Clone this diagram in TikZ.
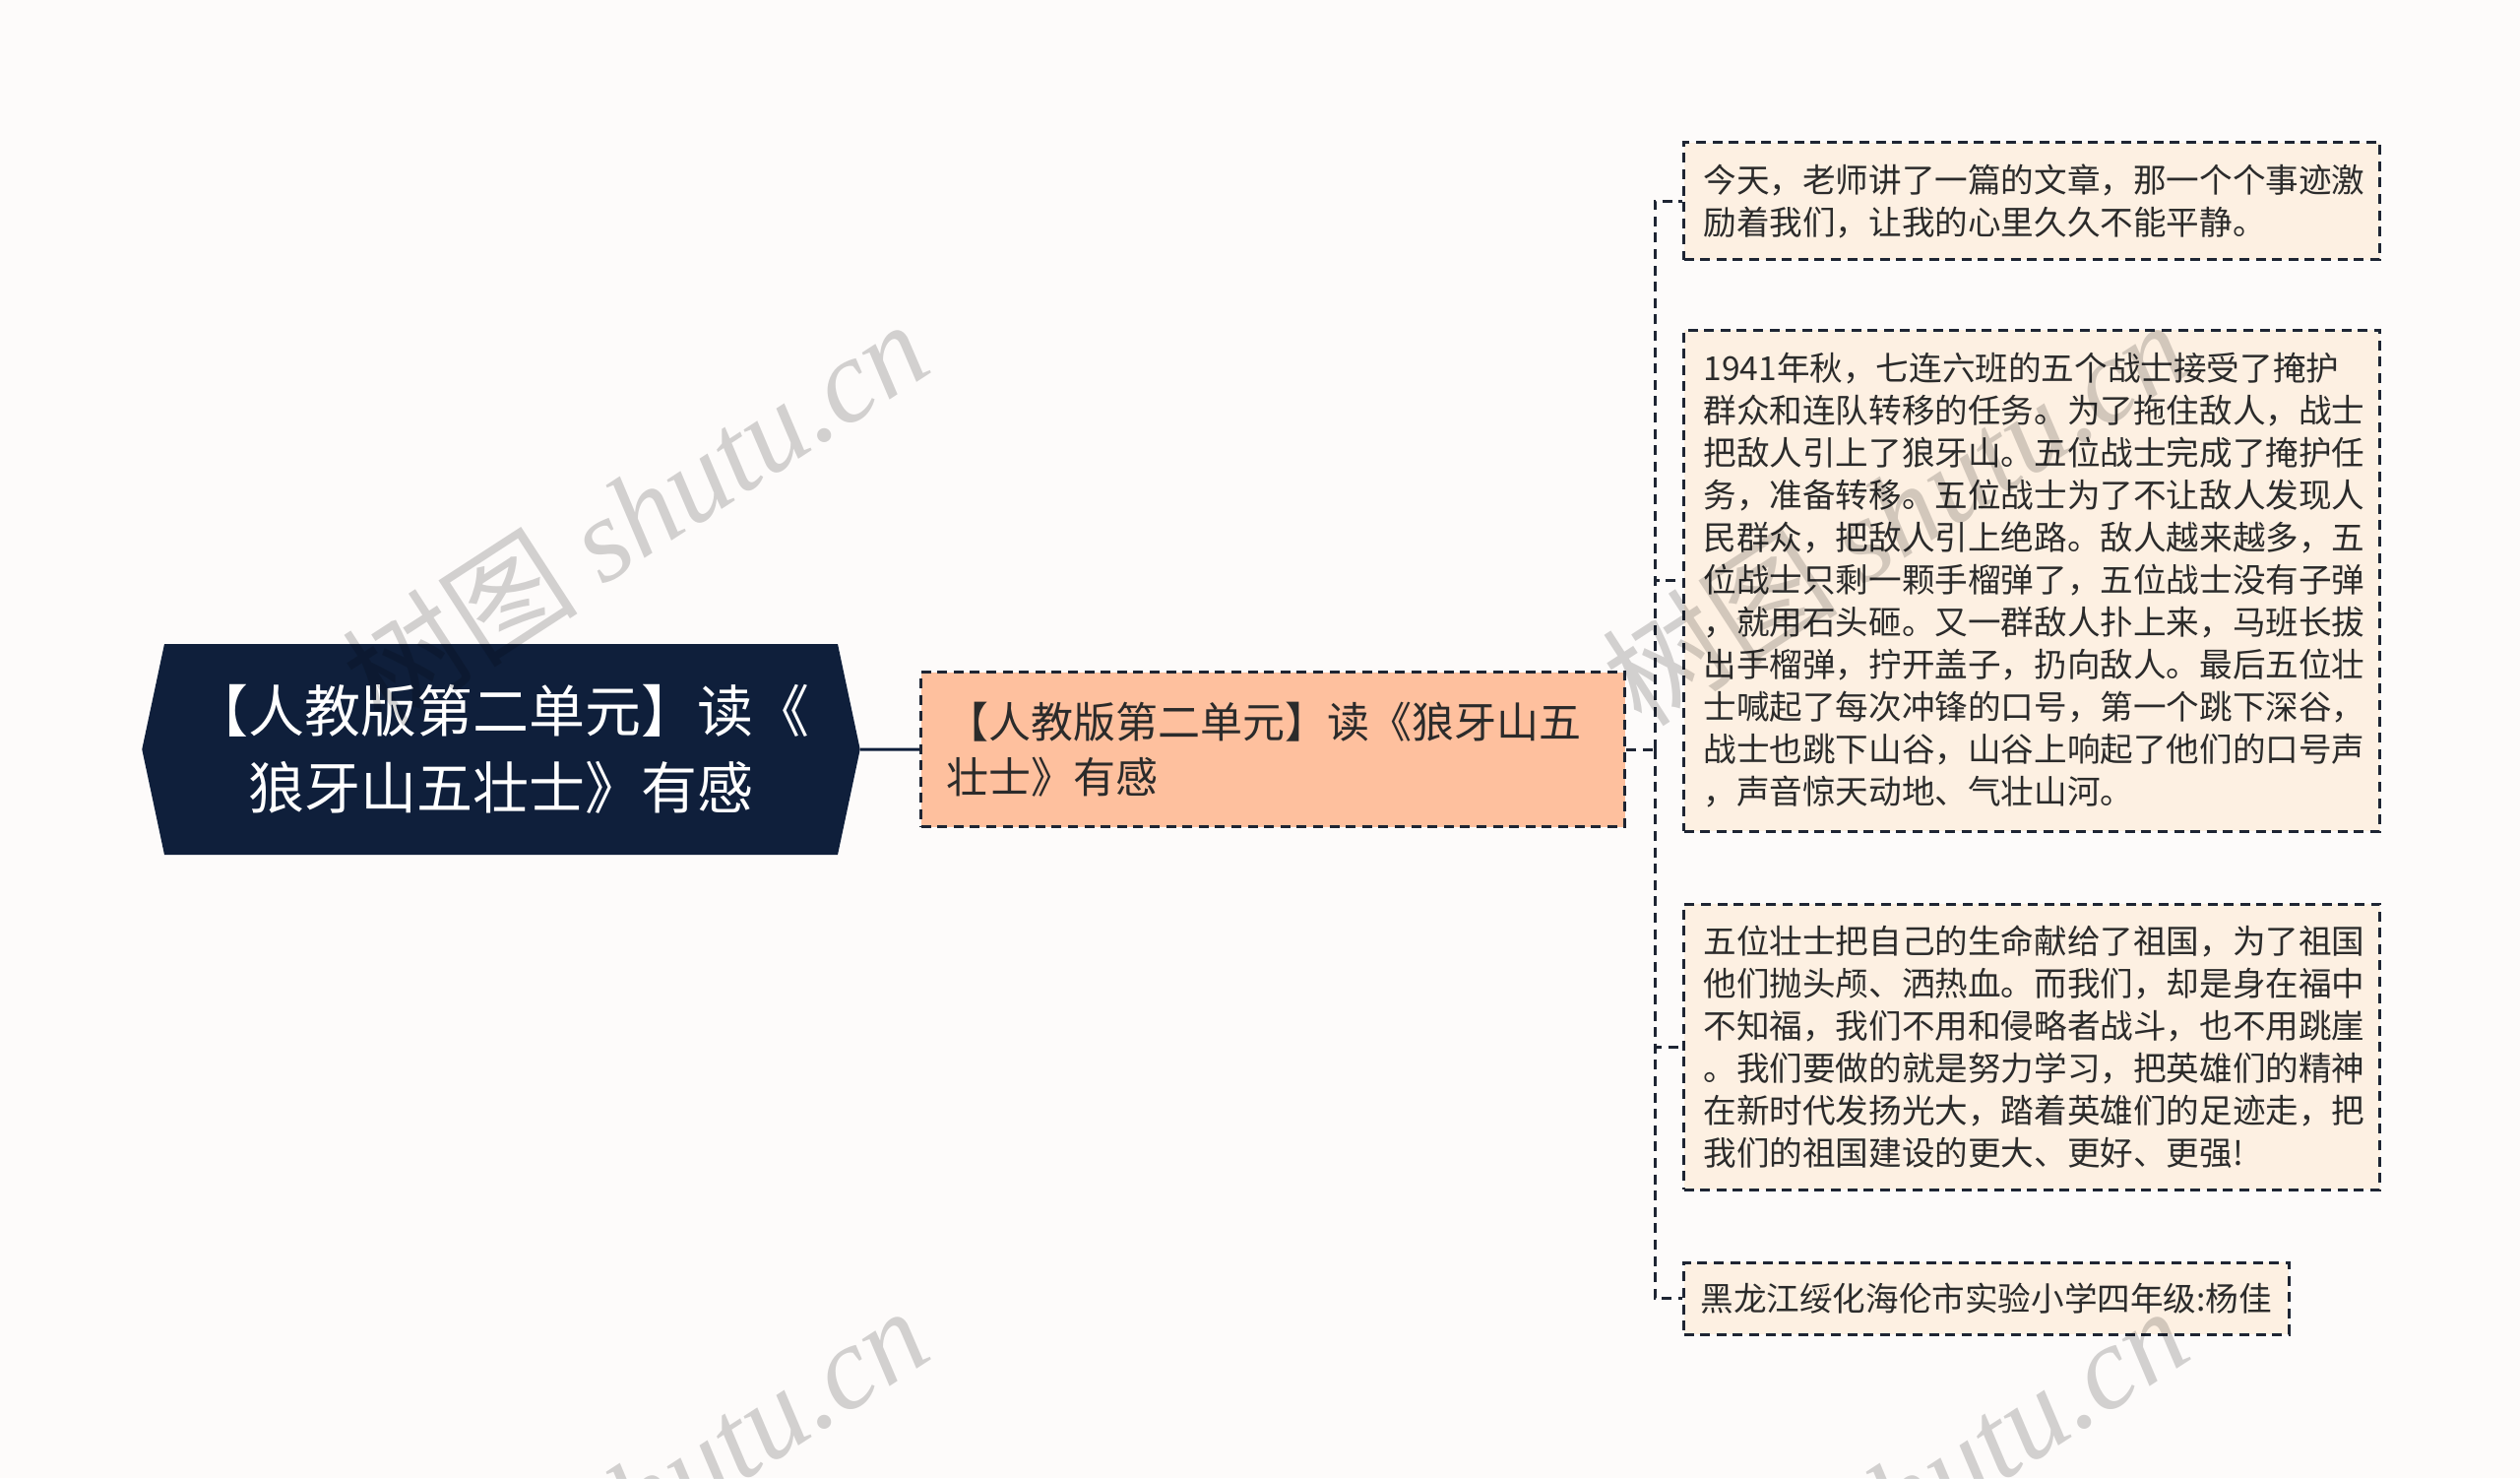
\documentclass[tikz,border=0pt]{standalone}
\usepackage{fontspec}
\setmainfont{Noto Sans CJK SC}
\newfontfamily\wmfont{Liberation Serif}
\usetikzlibrary{positioning,shapes.symbols}

\definecolor{paper}{HTML}{FDFBFA}
\definecolor{rootblue}{HTML}{0F1F3B}
\definecolor{peach}{HTML}{FEC09E}
\definecolor{cream}{HTML}{FDF0E2}
\definecolor{inkgray}{HTML}{2B2B2B}
\definecolor{dashgray}{HTML}{1E2533}

\tikzset{
    rootbox/.style={
           shape=signal,
           signal to=west and east,
           signal pointer angle=156,
           fill=rootblue,
           text=white,
           font=\fontsize{28.5}{39}\selectfont,
           text width=315pt,
           align=center,
           minimum height=107pt,
           inner xsep=13.5pt,
           inner ysep=0pt,
           },
    dashline/.style={
           draw=dashgray,
           line width=1.5pt,
           dash pattern=on 5pt off 3.3pt,
           },
    topicbox/.style={
           rectangle,
           dashline,
           fill=peach,
           text=inkgray,
           font=\fontsize{21.5}{27.75}\selectfont,
           text width=331.5pt,
           align=left,
           minimum height=78.5pt,
           inner xsep=13pt,
           },
    leafbox/.style={
           rectangle,
           dashline,
           fill=cream,
           text=inkgray,
           font=\fontsize{16.8}{21.5}\selectfont,
           align=left,
           inner xsep=10pt,
           },
    watermark/.style={
           rotate=33,
           text=black,
           text opacity=0.17,
           font=\fontsize{60}{64}\selectfont,
           },
}

\begin{document}
\begin{tikzpicture}[x=0.5pt,y=-0.5pt]
 \useasboundingbox[fill=paper] (0,0) rectangle (2560,1501);
 \clip (0,0) rectangle (2560,1501);

 % ROOT: title
 \node[rootbox] (ROOT) at (509,761)
 {%
 【人教版第二单元】读《\\狼牙山五壮士》有感
 };

 % TOPIC
 \node[topicbox,
 right=30pt of ROOT] (TOPIC)
 {%
 【人教版第二单元】读《狼牙山五\\壮士》有感
 };

 \coordinate[right=14.5pt of TOPIC] (FORK);

 % LEAVES
 \node[leafbox, text width=333.5pt, minimum height=59.5pt,
 anchor=west] (LEAF1) at (1709,204)
 {%
 今天，老师讲了一篇的文章，那一个个事迹激\\
 励着我们，让我的心里久久不能平静。
 };

 \node[leafbox, text width=333.5pt, minimum height=254.5pt,
 anchor=west] (LEAF2) at (1709,589.5)
 {%
 1941年秋，七连六班的五个战士接受了掩护\\
 群众和连队转移的任务。为了拖住敌人，战士\\
 把敌人引上了狼牙山。五位战士完成了掩护任\\
 务，准备转移。五位战士为了不让敌人发现人\\
 民群众，把敌人引上绝路。敌人越来越多，五\\
 位战士只剩一颗手榴弹了，五位战士没有子弹\\
 ，就用石头砸。又一群敌人扑上来，马班长拔\\
 出手榴弹，拧开盖子，扔向敌人。最后五位壮\\
 士喊起了每次冲锋的口号，第一个跳下深谷，\\
 战士也跳下山谷，山谷上响起了他们的口号声\\
 ，声音惊天动地、气壮山河。
 };

 \node[leafbox, text width=333.5pt, minimum height=145pt,
 anchor=west] (LEAF3) at (1709,1063)
 {%
 五位壮士把自己的生命献给了祖国，为了祖国\\
 他们抛头颅、洒热血。而我们，却是身在福中\\
 不知福，我们不用和侵略者战斗，也不用跳崖\\
 。我们要做的就是努力学习，把英雄们的精神\\
 在新时代发扬光大，踏着英雄们的足迹走，把\\
 我们的祖国建设的更大、更好、更强!
 };

 \node[leafbox, minimum height=36.5pt, inner xsep=8.5pt,
 anchor=west] (LEAF4) at (1709,1318.5)
 {%
 黑龙江绥化海伦市实验小学四年级:杨佳%
 };

 % connectors
 \draw[rootblue, line width=1.5pt] (ROOT) -- (TOPIC);
 \draw[dashline] (TOPIC) -- (FORK);
 \foreach \leaf in {LEAF1,LEAF2,LEAF3,LEAF4}
   \draw[dashline] (FORK) |- (\leaf);

 % watermarks
 \foreach \wx/\wy [count=\i] in {645/520, 1925/520, 645/1522, 1925/1522}
   \node[watermark] (WM\i) at (\wx,\wy) {树图 {\wmfont\itshape shutu.cn}};

\end{tikzpicture}
\end{document}
